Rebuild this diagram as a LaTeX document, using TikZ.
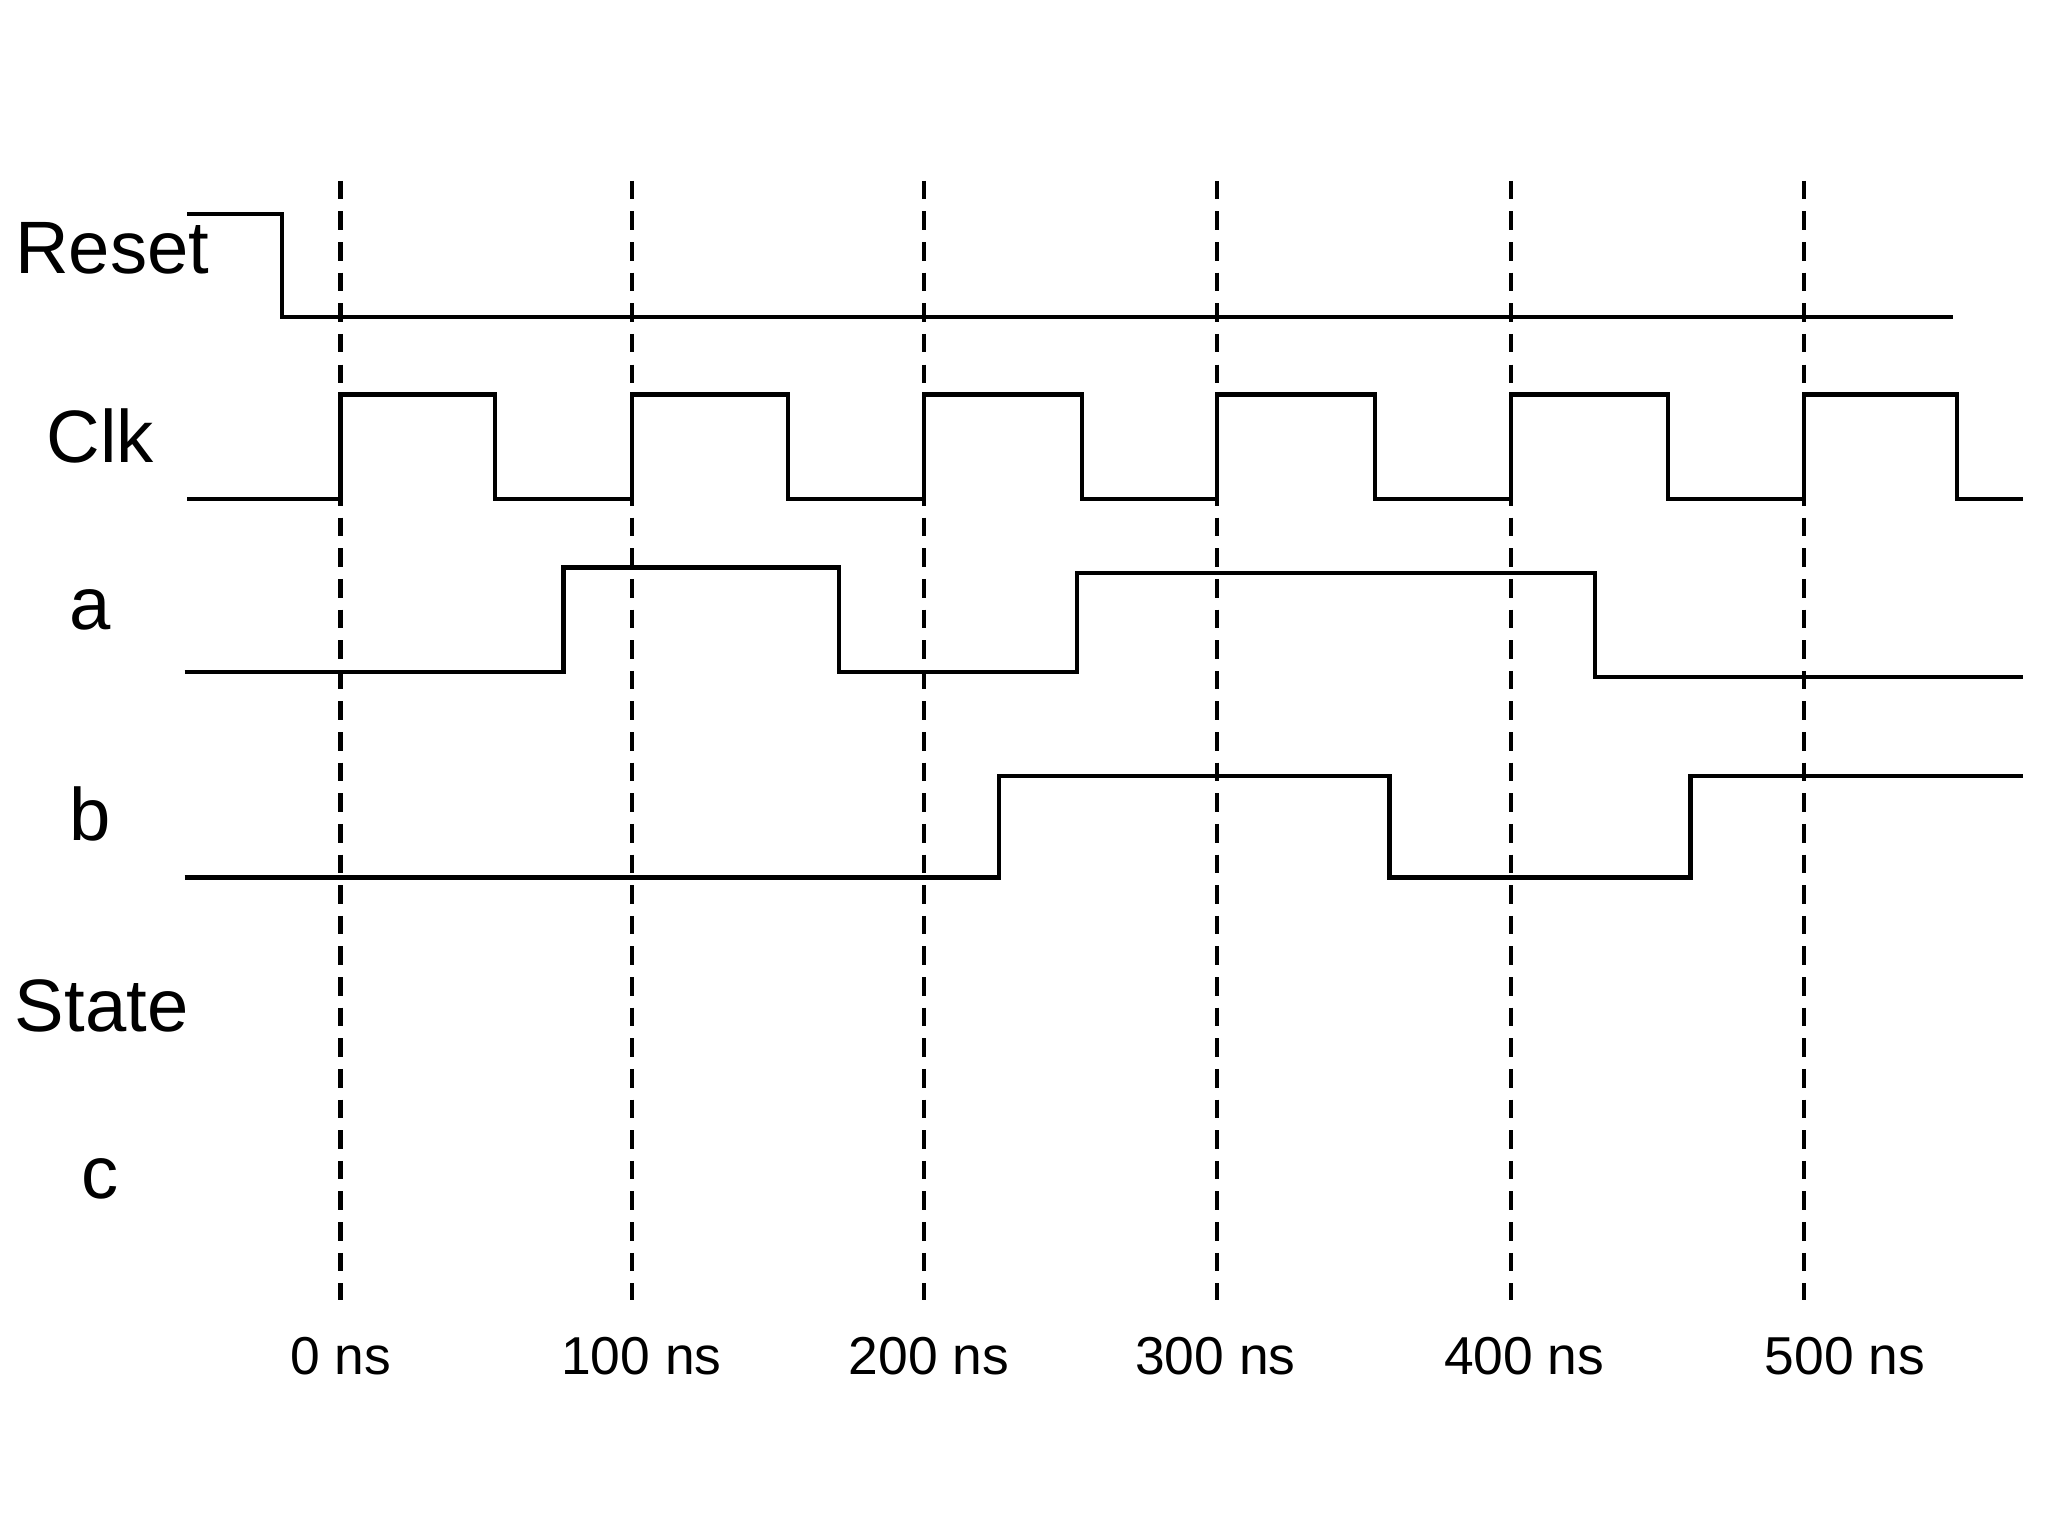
\documentclass[tikz,border=0pt]{standalone}
\usepackage{fontspec}
\setmainfont{Liberation Sans}
\begin{document}
\begin{tikzpicture}[x=0.01cm,y=-0.01cm,
  sig/.style={line width=0.9pt},
  grid/.style={line width=0.9pt,dash pattern=on 4pt off 2.6pt},
  lab/.style={font=\fontsize{16}{18}\selectfont},
  tick/.style={font=\fontsize{11.5}{13}\selectfont}]
\useasboundingbox (0,0) rectangle (1552,1164);
\foreach \x/\t in {258/0 ns,479/100 ns,700/200 ns,922/300 ns,1145/400 ns,1367/500 ns}{
  \draw[grid] (\x,137) -- (\x,985);
}
\node[tick] (t0) at (258,1028) {0 ns};
\node[tick] (t1) at (486,1028) {100 ns};
\node[tick] (t2) at (704,1028) {200 ns};
\node[tick] (t3) at (921,1028) {300 ns};
\node[tick] (t4) at (1155,1028) {400 ns};
\node[tick] (t5) at (1398,1028) {500 ns};
\node[lab] (lreset) at (85,188) {Reset};
\node[lab] (lclk) at (76,330) {Clk};
\node[lab] (la) at (68,462) {a};
\node[lab] (lb) at (68,617) {b};
\node[lab] (lstate) at (77,762) {State};
\node[lab] (lc) at (76,893) {c};
\draw[sig] (142,162) -- (214,162) -- (214,240) -- (1480,240);
\draw[sig] (142,378) -- (258,378) -- (258,299) -- (375,299) -- (375,378)
  -- (479,378) -- (479,299) -- (597,299) -- (597,378)
  -- (700,378) -- (700,299) -- (820,299) -- (820,378)
  -- (922,378) -- (922,299) -- (1042,299) -- (1042,378)
  -- (1145,378) -- (1145,299) -- (1264,299) -- (1264,378)
  -- (1367,378) -- (1367,299) -- (1483,299) -- (1483,378) -- (1533,378);
\draw[sig] (140,509) -- (427,509) -- (427,430) -- (636,430) -- (636,509)
  -- (816,509) -- (816,434) -- (1209,434) -- (1209,513) -- (1533,513);
\draw[sig] (140,665) -- (757,665) -- (757,588) -- (1053,588) -- (1053,665)
  -- (1281,665) -- (1281,588) -- (1533,588);
\end{tikzpicture}
\end{document}
